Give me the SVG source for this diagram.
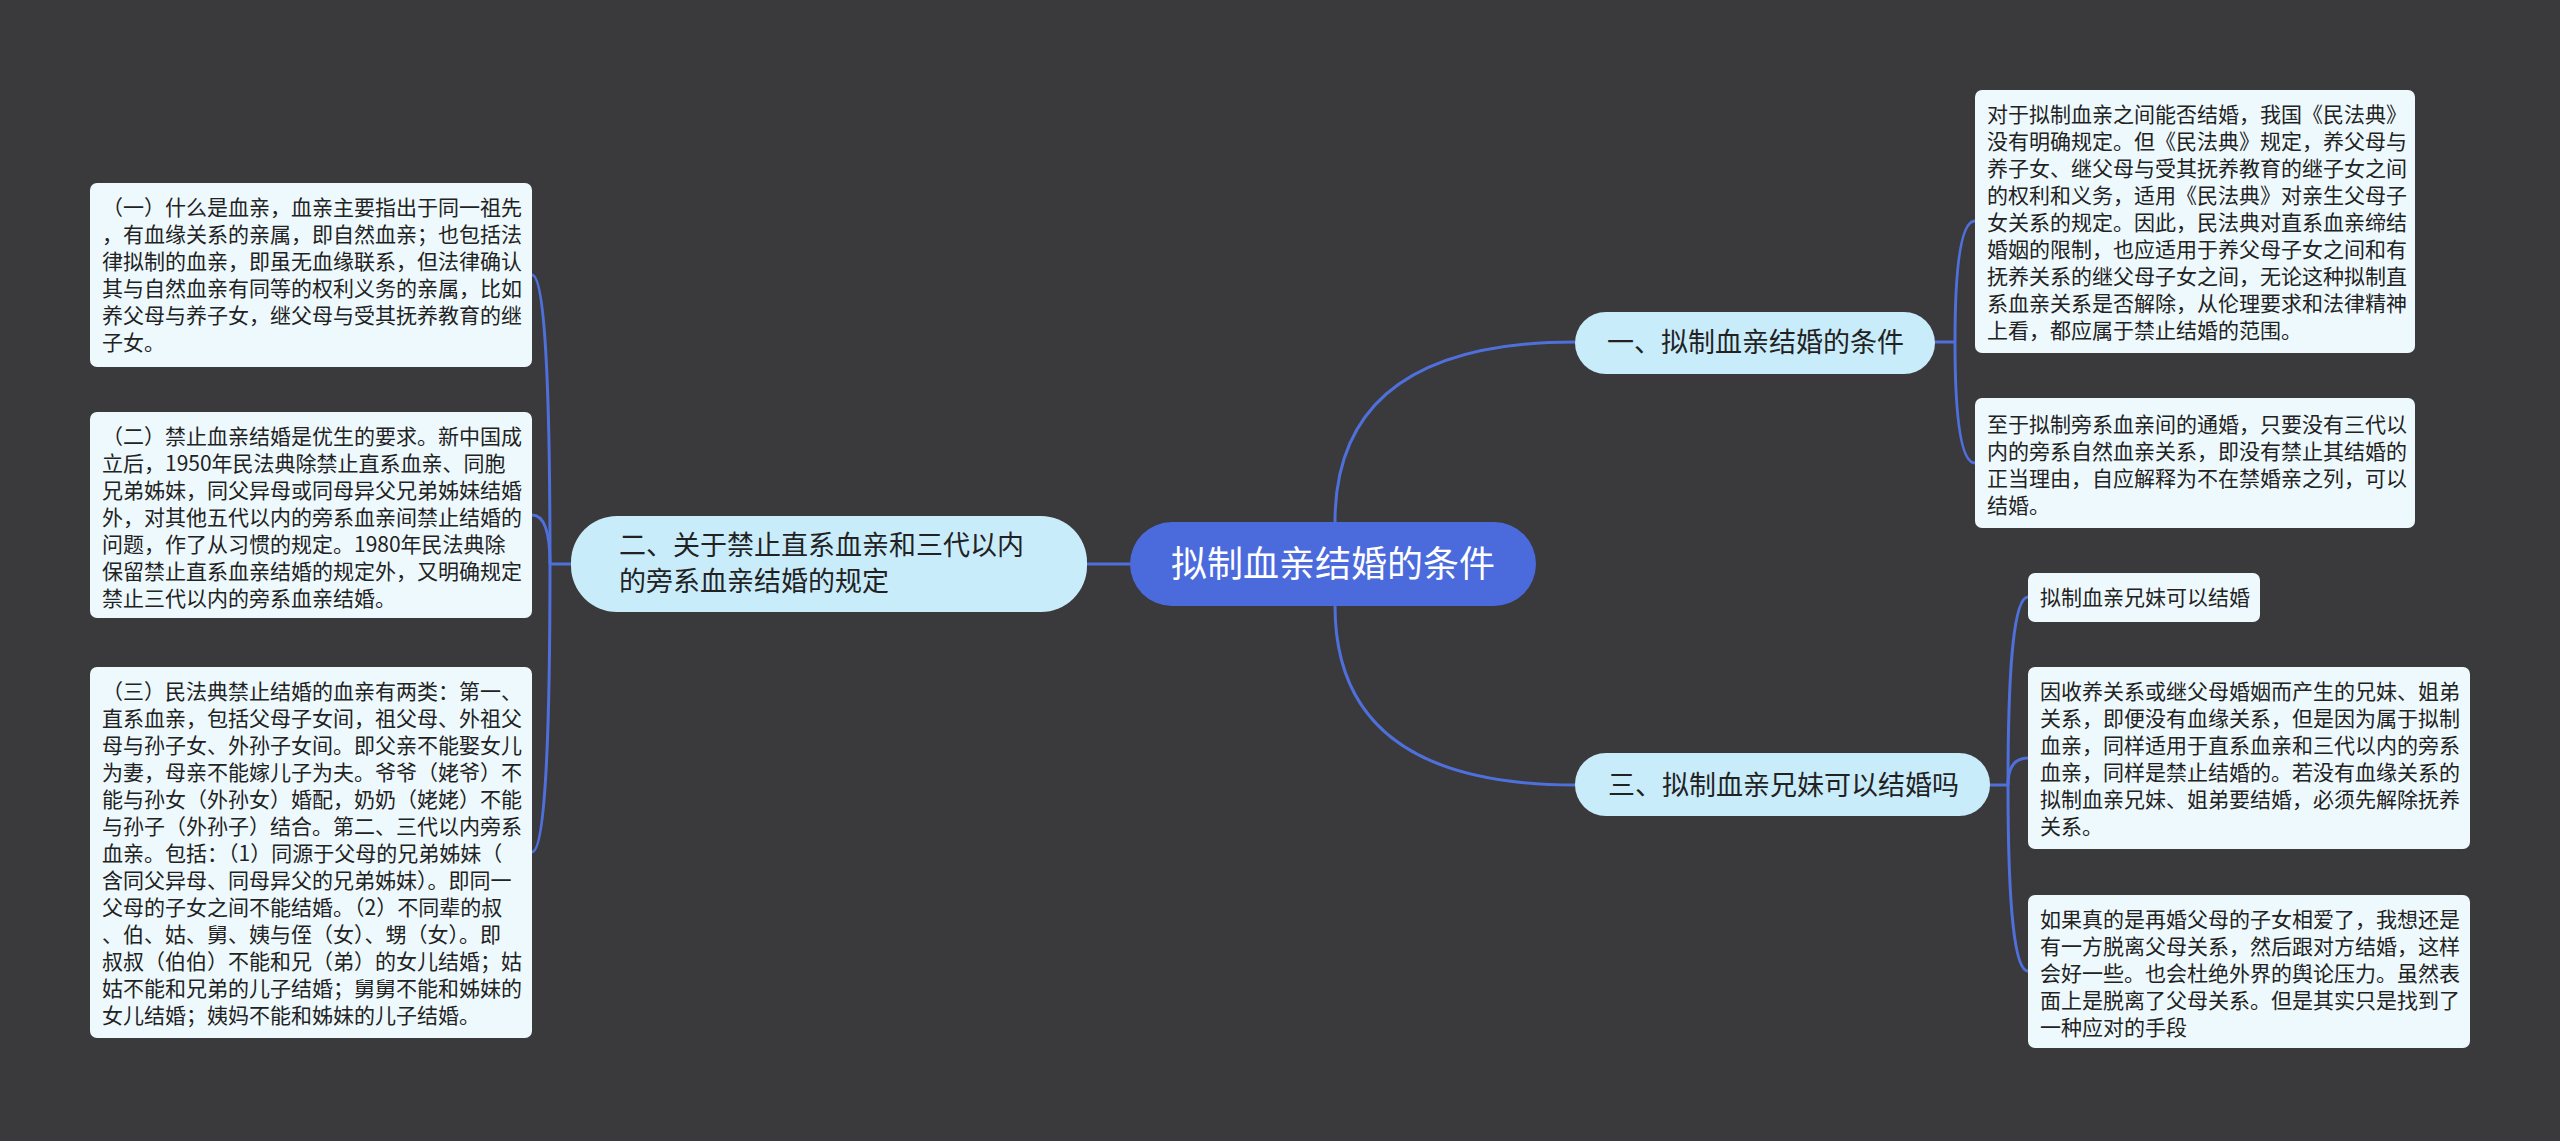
<svg xmlns="http://www.w3.org/2000/svg" width="2560" height="1141" viewBox="0 0 2560 1141">
<style>
text{font-family:"Noto Sans CJK SC","Noto Sans",sans-serif;fill:#222;}
.leaf rect{fill:#eef9fd;}
.leaf text{font-size:21px;}
.branch rect{fill:#c9ecfb;}
.branch text{font-size:27px;}
.conn path{fill:none;stroke:#4f6fdb;stroke-width:3;}
</style>
<rect x="0" y="0" width="2560" height="1141" fill="#3a393b"/>
<g id="connectors" class="conn">
<path d="M1130,564 H1087"/>
<path d="M1335,522 Q1335,342 1575,342"/>
<path d="M1335,606 Q1335,785 1575,785"/>
<path d="M571,564 H550"/>
<path d="M550,564 Q550,275 532,275"/>
<path d="M550,564 Q550,515 532,515"/>
<path d="M550,564 Q550,852 532,852"/>
<path d="M1935,342 H1955"/>
<path d="M1955,342 Q1955,221 1975,221"/>
<path d="M1955,342 Q1955,463 1975,463"/>
<path d="M1990,785 H2008"/>
<path d="M2008,785 Q2008,597 2028,597"/>
<path d="M2008,785 Q2008,758 2028,758"/>
<path d="M2008,785 Q2008,971 2028,971"/>
</g>
<g id="root">
<rect x="1130" y="522" width="406" height="84" rx="42" fill="#4b6bdd"/>
<text x="1333" y="577" font-size="36" text-anchor="middle" style="fill:#fff">拟制血亲结婚的条件</text>
</g>
<g id="branch-left" class="branch">
<rect x="571" y="516" width="516" height="96" rx="46"/>
<text x="619" y="555">二、关于禁止直系血亲和三代以内</text>
<text x="619" y="591">的旁系血亲结婚的规定</text>
</g>
<g id="branch-1" class="branch">
<rect x="1575" y="312" width="360" height="62" rx="31"/>
<text x="1607" y="352">一、拟制血亲结婚的条件</text>
</g>
<g id="branch-3" class="branch">
<rect x="1575" y="753" width="415" height="63" rx="31"/>
<text x="1608" y="795">三、拟制血亲兄妹可以结婚吗</text>
</g>
<g id="leaf-l1" class="leaf">
<rect x="90" y="183" width="442" height="184" rx="7"/>
<text x="102" y="215">（一）什么是血亲，血亲主要指出于同一祖先</text>
<text x="102" y="242">，有血缘关系的亲属，即自然血亲；也包括法</text>
<text x="102" y="269">律拟制的血亲，即虽无血缘联系，但法律确认</text>
<text x="102" y="296">其与自然血亲有同等的权利义务的亲属，比如</text>
<text x="102" y="323">养父母与养子女，继父母与受其抚养教育的继</text>
<text x="102" y="350">子女。</text>
</g>
<g id="leaf-l2" class="leaf">
<rect x="90" y="412" width="442" height="206" rx="7"/>
<text x="102" y="444">（二）禁止血亲结婚是优生的要求。新中国成</text>
<text x="102" y="471">立后，1950年民法典除禁止直系血亲、同胞</text>
<text x="102" y="498">兄弟姊妹，同父异母或同母异父兄弟姊妹结婚</text>
<text x="102" y="525">外，对其他五代以内的旁系血亲间禁止结婚的</text>
<text x="102" y="552">问题，作了从习惯的规定。1980年民法典除</text>
<text x="102" y="579">保留禁止直系血亲结婚的规定外，又明确规定</text>
<text x="102" y="606">禁止三代以内的旁系血亲结婚。</text>
</g>
<g id="leaf-l3" class="leaf">
<rect x="90" y="667" width="442" height="371" rx="7"/>
<text x="102" y="699">（三）民法典禁止结婚的血亲有两类：第一、</text>
<text x="102" y="726">直系血亲，包括父母子女间，祖父母、外祖父</text>
<text x="102" y="753">母与孙子女、外孙子女间。即父亲不能娶女儿</text>
<text x="102" y="780">为妻，母亲不能嫁儿子为夫。爷爷（姥爷）不</text>
<text x="102" y="807">能与孙女（外孙女）婚配，奶奶（姥姥）不能</text>
<text x="102" y="834">与孙子（外孙子）结合。第二、三代以内旁系</text>
<text x="102" y="861">血亲。包括：（1）同源于父母的兄弟姊妹（</text>
<text x="102" y="888">含同父异母、同母异父的兄弟姊妹）。即同一</text>
<text x="102" y="915">父母的子女之间不能结婚。（2）不同辈的叔</text>
<text x="102" y="942">、伯、姑、舅、姨与侄（女）、甥（女）。即</text>
<text x="102" y="969">叔叔（伯伯）不能和兄（弟）的女儿结婚；姑</text>
<text x="102" y="996">姑不能和兄弟的儿子结婚；舅舅不能和姊妹的</text>
<text x="102" y="1023">女儿结婚；姨妈不能和姊妹的儿子结婚。</text>
</g>
<g id="leaf-r1" class="leaf">
<rect x="1975" y="90" width="440" height="263" rx="7"/>
<text x="1987" y="122">对于拟制血亲之间能否结婚，我国《民法典》</text>
<text x="1987" y="149">没有明确规定。但《民法典》规定，养父母与</text>
<text x="1987" y="176">养子女、继父母与受其抚养教育的继子女之间</text>
<text x="1987" y="203">的权利和义务，适用《民法典》对亲生父母子</text>
<text x="1987" y="230">女关系的规定。因此，民法典对直系血亲缔结</text>
<text x="1987" y="257">婚姻的限制，也应适用于养父母子女之间和有</text>
<text x="1987" y="284">抚养关系的继父母子女之间，无论这种拟制直</text>
<text x="1987" y="311">系血亲关系是否解除，从伦理要求和法律精神</text>
<text x="1987" y="338">上看，都应属于禁止结婚的范围。</text>
</g>
<g id="leaf-r2" class="leaf">
<rect x="1975" y="398" width="440" height="130" rx="7"/>
<text x="1987" y="432">至于拟制旁系血亲间的通婚，只要没有三代以</text>
<text x="1987" y="459">内的旁系自然血亲关系，即没有禁止其结婚的</text>
<text x="1987" y="486">正当理由，自应解释为不在禁婚亲之列，可以</text>
<text x="1987" y="513">结婚。</text>
</g>
<g id="leaf-r3" class="leaf">
<rect x="2028" y="573" width="232" height="49" rx="7"/>
<text x="2040" y="605">拟制血亲兄妹可以结婚</text>
</g>
<g id="leaf-r4" class="leaf">
<rect x="2028" y="667" width="442" height="182" rx="7"/>
<text x="2040" y="699">因收养关系或继父母婚姻而产生的兄妹、姐弟</text>
<text x="2040" y="726">关系，即便没有血缘关系，但是因为属于拟制</text>
<text x="2040" y="753">血亲，同样适用于直系血亲和三代以内的旁系</text>
<text x="2040" y="780">血亲，同样是禁止结婚的。若没有血缘关系的</text>
<text x="2040" y="807">拟制血亲兄妹、姐弟要结婚，必须先解除抚养</text>
<text x="2040" y="834">关系。</text>
</g>
<g id="leaf-r5" class="leaf">
<rect x="2028" y="895" width="442" height="153" rx="7"/>
<text x="2040" y="927">如果真的是再婚父母的子女相爱了，我想还是</text>
<text x="2040" y="954">有一方脱离父母关系，然后跟对方结婚，这样</text>
<text x="2040" y="981">会好一些。也会杜绝外界的舆论压力。虽然表</text>
<text x="2040" y="1008">面上是脱离了父母关系。但是其实只是找到了</text>
<text x="2040" y="1035">一种应对的手段</text>
</g>
</svg>
